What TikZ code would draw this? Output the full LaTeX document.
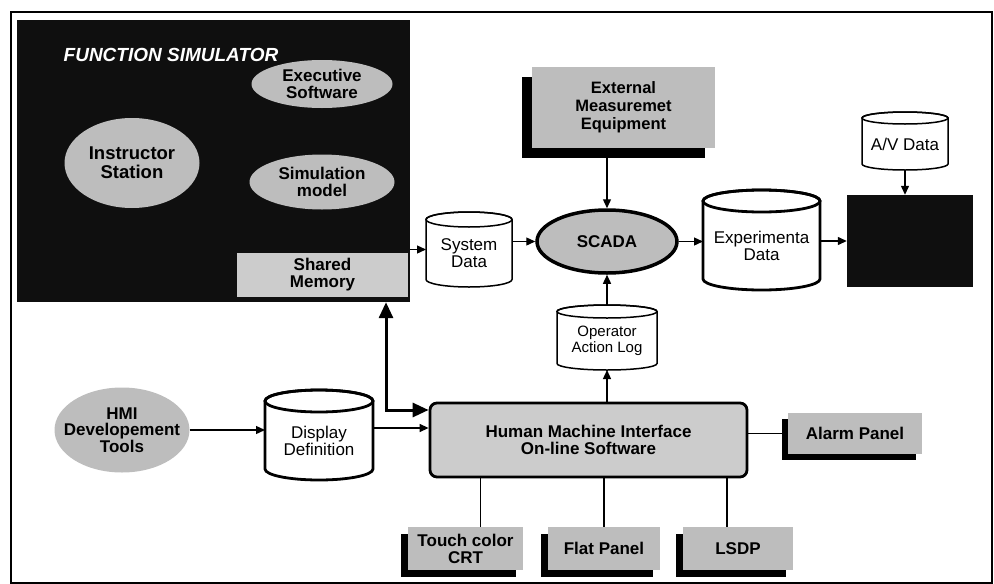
\documentclass[tikz,border=0pt]{standalone}
\usepackage{fontspec}
\setmainfont{Liberation Sans}
\usetikzlibrary{arrows.meta,shapes.geometric,shadows}
\definecolor{dither}{gray}{0.74}
\definecolor{ditherlt}{gray}{0.80}
\definecolor{nearblack}{gray}{0.06}
\newcommand{\fbold}{\fontsize{17}{17}\selectfont\bfseries}
\newcommand{\fbig}{\fontsize{18.5}{19}\selectfont\bfseries}
\newcommand{\fext}{\fontsize{16.5}{18}\selectfont\bfseries}
\newcommand{\ftitle}{\fontsize{19}{19}\selectfont\bfseries\itshape}
\newcommand{\fcyl}{\fontsize{17}{17}\selectfont}
\newcommand{\fop}{\fontsize{15}{15.5}\selectfont}
% cylinder: name, cx, cy, w, h, ry, line width, font, text
\newcommand{\cylnode}[9]{%
  \pgfmathsetmacro{\cxl}{#2-#4/2}%
  \pgfmathsetmacro{\cxr}{#2+#4/2}%
  \pgfmathsetmacro{\cyt}{#3-#5/2+#6}%
  \pgfmathsetmacro{\cyb}{#3+#5/2-#6}%
  \pgfmathsetmacro{\crx}{#4/2}%
  \pgfmathsetmacro{\cty}{#3+#6/2}%
  \draw[line width=#7, fill=white] (\cxl,\cyt) -- (\cxl,\cyb)
    arc[start angle=180, end angle=360, x radius=\crx pt, y radius=#6pt]
    -- (\cxr,\cyt)
    arc[start angle=0, end angle=180, x radius=\crx pt, y radius=#6pt] -- cycle;
  \draw[line width=#7] (#2,\cyt) ellipse[x radius=\crx pt, y radius=#6pt];
  \node[inner sep=0pt, outer sep=0pt, minimum width=#4pt, minimum height=#5pt] (#1) at (#2,#3) {};
  \node[align=center, inner sep=0pt, font=#8] (#1-text) at (#2,\cty) {#9};
}
\begin{document}
\begin{tikzpicture}[x=1pt, y=-1pt,
  arr/.style={line width=1.3pt, -{Triangle[length=9pt,width=8pt]}},
  bigarr/.style={line width=3pt, {Triangle[length=16pt,width=14pt]}-{Triangle[length=16pt,width=14pt]}},
  link/.style={line width=1.3pt},
  grayell/.style={ellipse, fill=dither, inner sep=0pt},
  etext/.style={align=center, inner sep=0pt, font=\fbold},
  shbox/.style={rectangle, fill=dither, inner sep=0pt, align=center, font=\fbold,
    drop shadow={shadow xshift=-#1pt, shadow yshift=-#1pt, fill=black, opacity=1}},
  shbox/.default=7,
  blackbox/.style={fill=nearblack, inner sep=0pt}
]
\useasboundingbox (0,0) rectangle (994,584);
\draw[line width=1.5pt] (11,12) rectangle (992,583);

% Function simulator
\node[blackbox, minimum width=393pt, minimum height=282pt] (fs) at (213.5,161) {};
\node[text=white, font=\ftitle, inner sep=0pt] (fstitle) at (171,55) {FUNCTION SIMULATOR};
\node[grayell, minimum width=141pt, minimum height=48pt] (exec) at (322,84) {};
\node[etext] (exectext) at (exec) {Executive\\Software};
\node[grayell, minimum width=135pt, minimum height=90pt] (instr) at (132,163) {};
\node[etext, font=\fbig] (instrtext) at (instr) {Instructor\\Station};
\node[grayell, minimum width=145pt, minimum height=55pt] (sim) at (322,182) {};
\node[etext] (simtext) at (sim) {Simulation\\model};
\node[rectangle, fill=ditherlt, minimum width=171pt, minimum height=44pt, inner sep=0pt, align=center, font=\fbold] (shm) at (322.5,275) {Shared\\Memory};

% Data stores
\cylnode{sd}{469}{249.5}{86}{75}{7.5}{1.5pt}{\fcyl}{System\\Data}
\cylnode{exp}{761.5}{240}{117}{100}{11}{2.8pt}{\fcyl}{Experimenta\\Data}
\cylnode{av}{905}{141}{86}{58}{6}{1.5pt}{\fcyl}{A/V Data}
\cylnode{op}{607}{337.5}{100}{65}{6.5}{1.5pt}{\fop}{Operator\\Action Log}
\cylnode{dd}{319}{435}{108}{90}{11}{2.8pt}{\fcyl}{Display\\Definition}

% SCADA and others
\node[ellipse, draw, line width=3.5pt, fill=dither, minimum width=140pt, minimum height=63pt, inner sep=0pt, font=\fbold] (scada) at (607,241.5) {SCADA};
\node[shbox=10, minimum width=183pt, minimum height=81pt, font=\fext] (ext) at (623.5,107.5) {External\\Measuremet\\Equipment};
\node[blackbox, minimum width=126pt, minimum height=92pt] (blk) at (910,241) {};

\node[rectangle, rounded corners=7pt, draw, line width=2.8pt, fill=ditherlt, minimum width=317pt, minimum height=74pt, inner sep=0pt, align=center, font=\fbold] (hmi) at (588.5,440) {Human Machine Interface\\On-line Software};
\node[shbox=6, minimum width=134pt, minimum height=41pt] (alarm) at (855,433.5) {Alarm Panel};
\node[shbox=7, minimum width=115pt, minimum height=43pt] (touch) at (465.5,548.5) {Touch color\\CRT};
\node[shbox=7, minimum width=112pt, minimum height=43pt] (flat) at (604,548.5) {Flat Panel};
\node[shbox=7, minimum width=110pt, minimum height=43pt] (lsdp) at (738,548.5) {LSDP};

\node[grayell, minimum width=135pt, minimum height=85pt] (hmidev) at (122,430) {};
\node[etext, font=\fontsize{17}{16.5}\selectfont\bfseries] (hmidevtext) at (hmidev) {HMI\\Developement\\Tools};

% Connectors
\draw[arr] (fs.east |- sd.west) -- (sd.west);
\draw[arr] (sd.east |- scada.west) -- (scada.west);
\coordinate (extfoot) at ([yshift=-10pt]ext.south);
\draw[arr] (scada.north |- extfoot) -- (scada.north);
\draw[arr] (scada.east) -- (exp.west |- scada.east);
\draw[arr] (exp.east |- blk.west) -- (blk.west);
\draw[arr] (av.south) -- (av.south |- blk.north);
\draw[arr] (op.north) -- (op.north |- scada.south);
\draw[arr] (hmi.north -| op.south) -- (op.south);
\draw[link] (hmi.east |- alarm.west) -- (alarm.west);
\coordinate (touchtop) at ([xshift=15pt]touch.north);
\draw[link] (touchtop |- hmi.south) -- (touchtop);
\draw[link] (flat.north |- hmi.south) -- (flat.north);
\coordinate (lsdptop) at ([xshift=-11pt]lsdp.north);
\draw[link] (lsdptop |- hmi.south) -- (lsdptop);
\draw[arr] (hmidev.east) -- (dd.west |- hmidev.east);
\coordinate (ddout) at ([yshift=7pt]dd.east);
\draw[arr] (ddout) -- (hmi.west |- ddout);
\coordinate (corner) at (386,410);
\draw[bigarr] (fs.south -| corner) -- (corner) -- (hmi.west |- corner);
\end{tikzpicture}
\end{document}
